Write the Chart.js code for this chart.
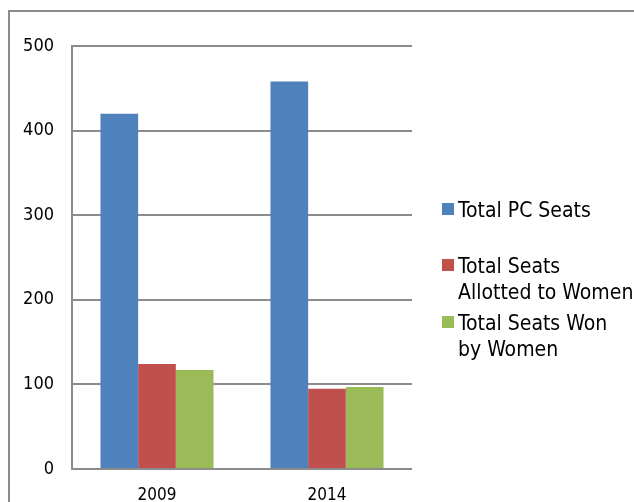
<!DOCTYPE html>
<html>
<head>
<meta charset="utf-8">
<script src="https://cdn.jsdelivr.net/npm/chart.js@4/dist/chart.umd.min.js"></script>
<style>
    html, body { margin: 0; padding: 0; background: #fff; overflow: hidden; }
    #wrap { position: relative; width: 634px; height: 502px; }
</style>
</head>
<body>
<div id="wrap"><canvas id="chart" width="634" height="502"></canvas></div>
<script>
    let years = ['2009', '2014'];
    let totalPcSeats = [420, 458];
    let seatsAllotted = [124, 95];
    let seatsWon = [117, 97];
    let seriesNames = [['Total PC Seats'], ['Total Seats', 'Allotted to Women'], ['Total Seats Won', 'by Women']];
    let seriesColors = ['#4F81BD', '#C0504D', '#9BBB59'];
    let yTicks = [0, 100, 200, 300, 400, 500];

    let fontFamily = '"DejaVu Sans Condensed", "DejaVu Sans", sans-serif';

    // hand drawn legend + outer frame, Excel style
    let legendPlugin = {
        id: 'sideLegend',
        beforeDraw: function (chart) {
            let ctx = chart.ctx;
            ctx.save();
            ctx.strokeStyle = '#8c8c8c';
            ctx.lineWidth = 2;
            ctx.beginPath();
            ctx.moveTo(9, 502);
            ctx.lineTo(9, 11);
            ctx.lineTo(634, 11);
            ctx.stroke();
            ctx.restore();
        },
        afterDraw: function (chart) {
            let ctx = chart.ctx;
            let baselines = [[217], [273, 299], [330, 356]];
            ctx.save();
            ctx.font = '21px ' + fontFamily;
            ctx.textBaseline = 'alphabetic';
            ctx.textAlign = 'left';
            chart.data.datasets.forEach(function (ds, i) {
                let lines = seriesNames[i];
                let base = baselines[i];
                ctx.fillStyle = ds.backgroundColor;
                ctx.fillRect(442, base[0] - 14, 12, 12);
                ctx.fillStyle = '#000';
                for (let k = 0; k < lines.length; k++) {
                    ctx.fillText(lines[k], 458, base[k]);
                }
            });
            ctx.restore();
        }
    };

    let ctx = document.getElementById('chart').getContext('2d');
    let chart = new Chart(ctx, {
        type: 'bar',
        data: {
            labels: years,
            datasets: [{
                label: seriesNames[0].join(' '),
                data: totalPcSeats,
                backgroundColor: seriesColors[0]
            }, {
                label: seriesNames[1].join(' '),
                data: seatsAllotted,
                backgroundColor: seriesColors[1]
            }, {
                label: seriesNames[2].join(' '),
                data: seatsWon,
                backgroundColor: seriesColors[2]
            }]
        },
        options: {
            responsive: false,
            animation: false,
            devicePixelRatio: 1,
            datasets: {
                bar: {
                    barPercentage: 1,
                    categoryPercentage: 0.665
                }
            },
            layout: {
                padding: { top: 46, right: 222, bottom: 0, left: 0 }
            },
            scales: {
                x: {
                    grid: { display: false },
                    border: { display: false },
                    ticks: {
                        color: '#000',
                        padding: 8,
                        font: { family: fontFamily, size: 17 }
                    },
                    afterFit: function (scale) { scale.height = 33; }
                },
                y: {
                    min: 0,
                    max: 500,
                    afterBuildTicks: function (scale) {
                        scale.ticks = yTicks.map(function (v) { return { value: v }; });
                    },
                    grid: {
                        color: '#8c8c8c',
                        lineWidth: 2,
                        drawTicks: false
                    },
                    border: { display: true, color: '#8c8c8c', width: 2 },
                    ticks: {
                        color: '#000',
                        padding: 18,
                        font: { family: fontFamily, size: 18 }
                    },
                    afterFit: function (scale) { scale.width = 72; }
                }
            },
            plugins: {
                legend: { display: false },
                tooltip: { enabled: false }
            }
        },
        plugins: [legendPlugin]
    });
</script>
</body>
</html>
